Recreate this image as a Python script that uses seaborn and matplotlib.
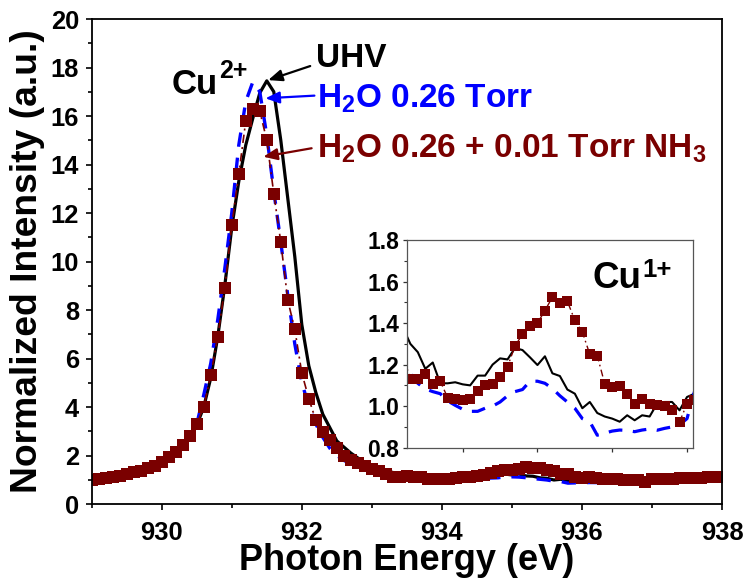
import numpy as np
import pandas as pd
import matplotlib
matplotlib.use("Agg")
import matplotlib.pyplot as plt
import seaborn as sns
from matplotlib.ticker import MultipleLocator

# ---------------- data ----------------
energy = [929.0, 929.1, 929.2, 929.3, 929.4, 929.5, 929.6, 929.7, 929.8, 929.9,
          930.0, 930.1, 930.2, 930.3, 930.4, 930.5, 930.6, 930.7, 930.8, 930.9,
          931.0, 931.1, 931.2, 931.3, 931.4, 931.5, 931.6, 931.7, 931.8, 931.9,
          932.0, 932.1, 932.2, 932.3, 932.4, 932.5, 932.6, 932.7, 932.8, 932.9,
          933.0, 933.1, 933.2, 933.3, 933.4, 933.5, 933.6, 933.7, 933.8, 933.9,
          934.0, 934.1, 934.2, 934.3, 934.4, 934.5, 934.6, 934.7, 934.8, 934.9,
          935.0, 935.1, 935.2, 935.3, 935.4, 935.5, 935.6, 935.7, 935.8, 935.9,
          936.0, 936.1, 936.2, 936.3, 936.4, 936.5, 936.6, 936.7, 936.8, 936.9,
          937.0, 937.1, 937.2, 937.3, 937.4, 937.5, 937.6, 937.7, 937.8, 937.9,
          938.0]

uhv = [1.00, 1.04, 1.08, 1.12, 1.17, 1.23, 1.30, 1.37, 1.46, 1.57,
       1.70, 1.88, 2.10, 2.38, 2.75, 3.25, 4.00, 5.20, 6.90, 9.00,
       11.40, 13.30, 14.80, 15.90, 16.95, 17.45, 17.00, 15.00, 12.60, 10.20,
       7.40, 5.70, 4.60, 3.70, 3.15, 2.60, 2.35, 2.10, 1.90, 1.72,
       1.58, 1.47, 1.38, 1.30, 1.26, 1.18, 1.21, 1.11, 1.11, 1.115,
       1.105, 1.10, 1.147, 1.147, 1.20, 1.23, 1.225, 1.28, 1.27, 1.235,
       1.198, 1.24, 1.158, 1.145, 1.08, 1.06, 0.99, 1.02, 0.967, 0.95,
       0.94, 0.925, 0.956, 0.932, 0.956, 0.95, 1.012, 1.02, 1.02, 0.98,
       1.044, 1.06, 1.07, 1.08, 1.08, 1.09, 1.09, 1.10, 1.10, 1.11,
       1.12]

h2o = [1.00, 1.04, 1.08, 1.12, 1.17, 1.24, 1.31, 1.39, 1.48, 1.60,
       1.75, 1.95, 2.20, 2.50, 2.85, 3.30, 4.50, 5.80, 7.60, 9.70,
       12.00, 14.80, 16.60, 17.40, 17.00, 15.20, 12.90, 10.80, 8.60, 6.60,
       5.00, 4.05, 3.30, 2.75, 2.30, 2.00, 1.80, 1.65, 1.52, 1.42,
       1.35, 1.28, 1.22, 1.16, 1.11, 1.083, 1.07, 1.06, 1.025, 1.004,
       0.985, 0.975, 0.975, 0.99, 1.00, 1.02, 1.05, 1.07, 1.08, 1.12,
       1.12, 1.11, 1.085, 1.05, 1.02, 0.99, 0.94, 0.925, 0.86, 0.87,
       0.88, 0.885, 0.883, 0.877, 0.885, 0.89, 0.884, 0.893, 0.90, 0.91,
       0.94, 1.07, 1.08, 1.08, 1.09, 1.09, 1.09, 1.10, 1.10, 1.10,
       1.10]

h2o_nh3 = [1.00, 1.04, 1.08, 1.12, 1.17, 1.24, 1.31, 1.38, 1.47, 1.58,
           1.72, 1.92, 2.15, 2.42, 2.80, 3.30, 4.00, 5.30, 6.90, 8.90,
           11.50, 13.60, 15.80, 16.30, 16.20, 15.00, 12.80, 10.80, 8.40, 7.20,
           5.40, 4.35, 3.45, 2.98, 2.62, 2.30, 1.98, 1.80, 1.68, 1.56,
           1.45, 1.36, 1.25, 1.13, 1.13, 1.155, 1.107, 1.12, 1.04, 1.036,
           1.028, 1.036, 1.075, 1.10, 1.107, 1.142, 1.19, 1.29, 1.346, 1.386,
           1.40, 1.46, 1.525, 1.497, 1.505, 1.413, 1.357, 1.25, 1.243, 1.107,
           1.09, 1.097, 1.06, 1.012, 1.033, 1.012, 1.004, 1.00, 0.983, 0.924,
           1.012, 1.028, 1.04, 1.05, 1.06, 1.07, 1.08, 1.09, 1.10, 1.11,
           1.13]

x_ticks_main = [930, 932, 934, 936, 938]
y_ticks_main = [0, 2, 4, 6, 8, 10, 12, 14, 16, 18, 20]
y_ticks_inset = [0.8, 1.0, 1.2, 1.4, 1.6, 1.8]
x_ticks_inset = [934, 935, 936, 937]

label_uhv = "UHV"
label_h2o = "H$_2$O 0.26 Torr"
label_nh3 = "H$_2$O 0.26 + 0.01 Torr NH$_3$"

df = pd.DataFrame({"energy": energy, "uhv": uhv, "h2o": h2o, "nh3": h2o_nh3})

# ---------------- style ----------------
sns.set_style("ticks")
plt.rcParams['font.family'] = ['Liberation Sans', 'DejaVu Sans']
plt.rcParams['font.weight'] = 'bold'
plt.rcParams['mathtext.default'] = 'regular'
plt.rcParams['text.color'] = 'black'
plt.rcParams['axes.labelcolor'] = 'black'
plt.rcParams['xtick.color'] = 'black'
plt.rcParams['ytick.color'] = 'black'
plt.rcParams['axes.edgecolor'] = 'black'

BLACK = "#000000"
BLUE = "#0000ff"
RED = "#7a0000"

fig = plt.figure(figsize=(7.47, 5.79), dpi=100)
ax = fig.add_axes([0.12276, 0.12953, 0.84377, 0.83765])


def draw(a, lw_black, lw_blue, lw_red, ms):
    sns.lineplot(data=df, x="energy", y="uhv", ax=a, color=BLACK,
                 linewidth=lw_black, estimator=None, sort=False, legend=False)
    sns.lineplot(data=df, x="energy", y="h2o", ax=a, color=BLUE,
                 linewidth=lw_blue, linestyle=(0, (4.3, 3.3)),
                 estimator=None, sort=False, legend=False)
    sns.lineplot(data=df, x="energy", y="nh3", ax=a, color=RED,
                 linewidth=lw_red, linestyle=(0, (5, 2.5, 1.2, 2.5)),
                 marker="s", markersize=ms, markeredgewidth=0,
                 markerfacecolor=RED, markeredgecolor=RED,
                 estimator=None, sort=False, legend=False)


draw(ax, 2.3, 2.4, 1.2, 9.0)

ax.set_xlim(929, 938)
ax.set_ylim(0, 20)
ax.set_xticks(x_ticks_main)
ax.set_yticks(y_ticks_main)
ax.xaxis.set_minor_locator(MultipleLocator(1))
ax.yaxis.set_minor_locator(MultipleLocator(1))
ax.tick_params(axis="both", which="major", direction="out", length=4,
               width=1.2, labelsize=18.4, color="black")
ax.tick_params(axis="both", which="minor", direction="out", length=3,
               width=1.2, color="black")
ax.tick_params(axis="x", which="major", pad=8)
ax.tick_params(axis="y", which="major", pad=5)
for lab in ax.get_xticklabels() + ax.get_yticklabels():
    lab.set_fontweight("bold")
for sp in ax.spines.values():
    sp.set_visible(True)
    sp.set_linewidth(1.3)
    sp.set_color("black")

ax.set_xlabel("Photon Energy (eV)", fontsize=26, fontweight="bold", labelpad=-1)
ax.set_ylabel("Normalized Intensity (a.u.)", fontsize=26.8, fontweight="bold",
              labelpad=4)

# labels and arrows
cu2 = ax.text(930.14, 16.91, "Cu", fontsize=25, fontweight="bold",
              color=BLACK, va="baseline", ha="left")
ax.annotate("2+", xy=(1, 1), xycoords=cu2, xytext=(1.0, 6.5),
            textcoords="offset points", fontsize=18, fontweight="bold",
            color=BLACK, va="top", ha="left")
arrow_kw = dict(arrowstyle="-|>,head_length=0.6,head_width=0.25", lw=1.6,
                shrinkA=0, shrinkB=0, mutation_scale=14)
ax.annotate("", xy=(931.52, 17.48), xytext=(932.12, 18.06),
            arrowprops=dict(color=BLACK, **arrow_kw))
ax.annotate("", xy=(931.48, 16.73), xytext=(932.18, 16.84),
            arrowprops=dict(color=BLUE, **arrow_kw))
ax.annotate("", xy=(931.45, 14.32), xytext=(932.14, 14.67),
            arrowprops=dict(color=RED, **arrow_kw))
ax.text(932.20, 18.03, label_uhv, fontsize=24, fontweight="bold",
        color=BLACK, va="baseline", ha="left")
ax.text(932.22, 16.33, label_h2o, fontsize=24, fontweight="bold",
        color=BLUE, va="baseline", ha="left")
ax.text(932.22, 14.27, label_nh3, fontsize=24, fontweight="bold",
        color=RED, va="baseline", ha="left")

# ---------------- inset ----------------
axin = fig.add_axes([0.5453, 0.2268, 0.3824, 0.3587])
draw(axin, 1.5, 2.3, 1.0, 7.2)
axin.set_xlim(933.26, 937.08)
axin.set_ylim(0.8, 1.8)
axin.set_xticks(x_ticks_inset)
axin.set_xticklabels([])
axin.set_yticks(y_ticks_inset)
axin.set_yticklabels([f"{v:.1f}" for v in y_ticks_inset])
axin.yaxis.set_minor_locator(MultipleLocator(0.1))
axin.set_xlabel("")
axin.set_ylabel("")
axin.tick_params(axis="both", which="major", direction="out", length=3,
                 width=0.9, labelsize=16.5, color="#333333", pad=3)
axin.tick_params(axis="both", which="minor", direction="out", length=2,
                 width=0.8, color="#333333")
for lab in axin.get_yticklabels():
    lab.set_fontweight("bold")
for sp in axin.spines.values():
    sp.set_visible(True)
    sp.set_linewidth(0.9)
    sp.set_color("#555555")
cu1 = axin.text(0.649, 0.768, "Cu", transform=axin.transAxes, fontsize=26.5,
                fontweight="bold", color=BLACK, va="baseline", ha="left")
axin.annotate("1+", xy=(1, 1), xycoords=cu1, xytext=(0.5, 2.5),
              textcoords="offset points", fontsize=18.5, fontweight="bold",
              color=BLACK, va="top", ha="left")

fig.savefig("out.png", dpi=100)
